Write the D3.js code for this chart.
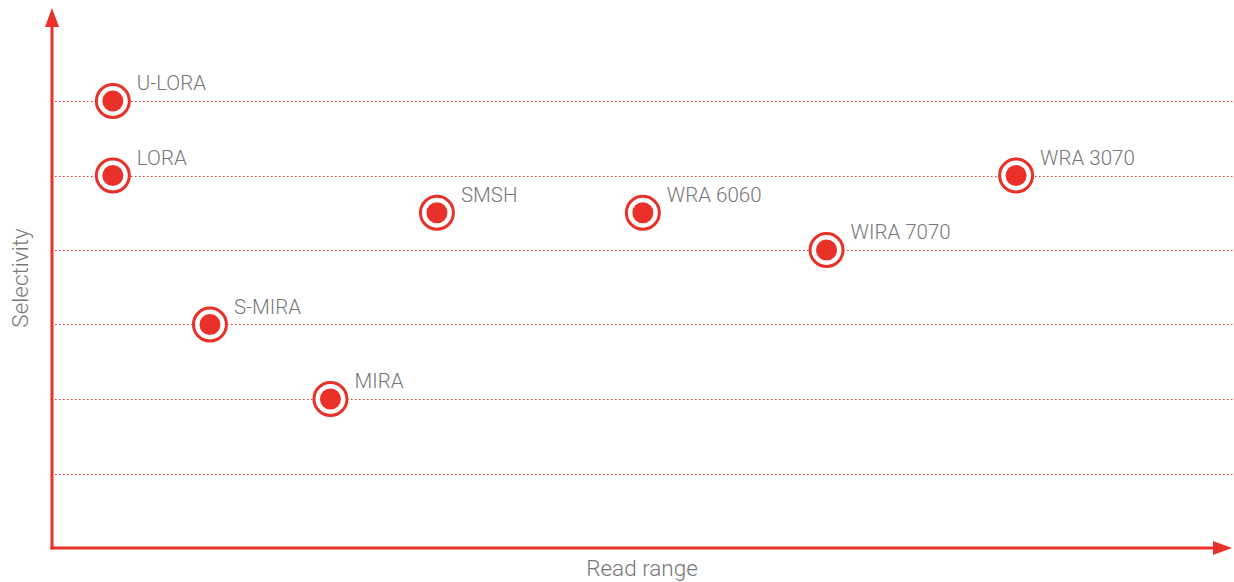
<!DOCTYPE html>
<html>
<head>
<meta charset="utf-8">
<script src="https://cdn.jsdelivr.net/npm/d3@7"></script>
<style>
  html, body { margin: 0; padding: 0; background: #fff; }
  text { font-family: Roboto, "Noto Sans", sans-serif; font-weight: 300; fill: #777; }
</style>
</head>
<body>
<script>
// readers: position on read range (arbitrary units) and selectivity level
var names = ['U-LORA', 'LORA', 'SMSH', 'WRA 6060', 'WIRA 7070', 'WRA 3070', 'S-MIRA', 'MIRA'];
var readRange = [5.2, 5.2, 32.9, 50.5, 66.2, 82.4, 13.5, 23.8];
var selectivity = [6, 5, 4.5, 4.5, 4, 5, 3, 2];
var gridLevels = [1, 2, 3, 4, 5, 6];

var width = 1234, height = 582;
var red = '#e9312a';
var originX = 52, originY = 548;

var svg = d3.select('body').append('svg')
    .attr('width', width)
    .attr('height', height);

var x = d3.scaleLinear().domain([0, 100]).range([originX, originX + 1170]);
var y = d3.scaleLinear().domain([0, 7]).range([originY, originY - 7 * 74.5]);

// dotted gridlines, snapped to whole pixels so they all look the same
svg.append('g').selectAll('line')
    .data(gridLevels)
    .join('line')
    .attr('x1', originX + 3).attr('x2', width)
    .attr('y1', function(d){ return Math.round(y(d)) + 0.5; })
    .attr('y2', function(d){ return Math.round(y(d)) + 0.5; })
    .attr('stroke', red)
    .attr('stroke-width', 1)
    .attr('stroke-dasharray', '1.5,2.5');

// axes with arrows
svg.append('line')
    .attr('x1', originX).attr('y1', originY + 1.5)
    .attr('x2', originX).attr('y2', 22)
    .attr('stroke', red).attr('stroke-width', 3);
svg.append('path')
    .attr('d', 'M' + originX + ',8 L' + (originX - 7) + ',27 L' + (originX + 7) + ',27 Z')
    .attr('fill', red);
svg.append('line')
    .attr('x1', originX - 1.5).attr('y1', originY)
    .attr('x2', 1218).attr('y2', originY)
    .attr('stroke', red).attr('stroke-width', 3);
svg.append('path')
    .attr('d', 'M1232,' + originY + ' L1213,' + (originY - 7) + ' L1213,' + (originY + 7) + ' Z')
    .attr('fill', red);

// axis titles
svg.append('text')
    .attr('x', 642).attr('y', 576)
    .attr('text-anchor', 'middle')
    .style('font-size', '22.5px')
    .text('Read range');
svg.append('text')
    .attr('transform', 'translate(28,278) rotate(-90)')
    .attr('text-anchor', 'middle')
    .style('font-size', '22.5px')
    .text('Selectivity');

// markers
var pts = svg.append('g').selectAll('g')
    .data(names)
    .join('g')
    .attr('transform', function(d, i){
        return 'translate(' + x(readRange[i]) + ',' + y(selectivity[i]) + ')';
    });
pts.append('circle')
    .attr('r', 16.5)
    .attr('fill', '#fff')
    .attr('stroke', red)
    .attr('stroke-width', 3);
pts.append('circle')
    .attr('r', 10.5)
    .attr('fill', red);
pts.append('text')
    .attr('x', 24).attr('y', -11)
    .style('font-size', '20.5px')
    .text(function(d){ return d; });
</script>
</body>
</html>
